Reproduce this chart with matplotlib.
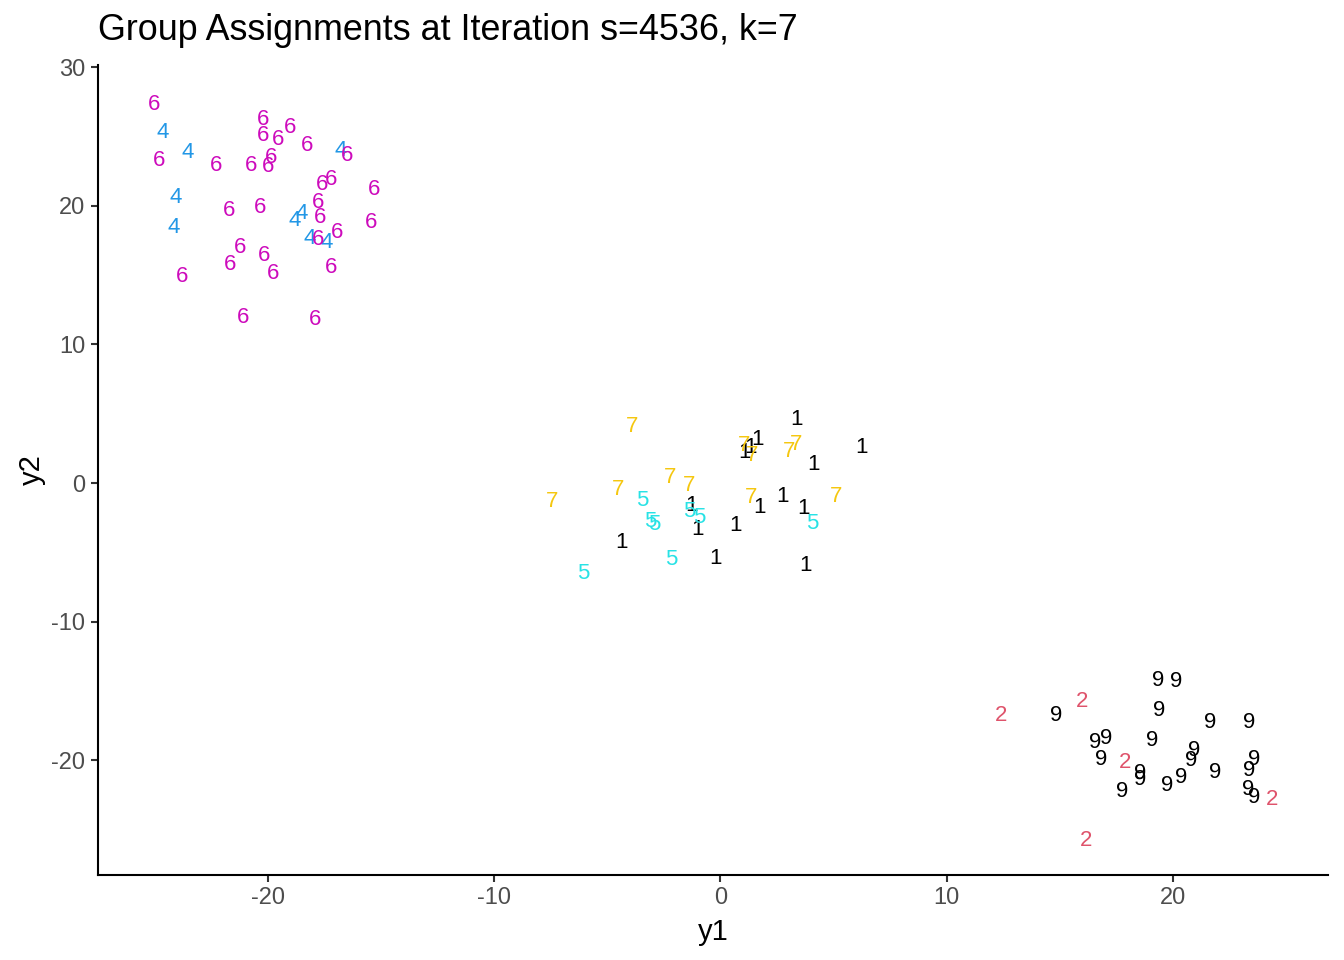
import numpy as np
import matplotlib
matplotlib.use("Agg")
import matplotlib.pyplot as plt

plt.rcParams['font.family'] = ['Liberation Sans', 'DejaVu Sans']
plt.rcParams['axes.unicode_minus'] = False

# group label per point, with coordinates
group_6_x = [-25.06, -20.24, -20.24, -19.05, -19.58, -18.30, -16.53, -24.84, -22.32, -20.77,
             -20.02, -19.89, -15.34, -17.24, -17.64, -17.81, -17.72, -21.75, -20.38, -15.47,
             -16.97, -17.81, -21.26, -20.20, -21.70, -17.24, -19.80, -23.82, -21.13, -17.94]
group_6_y = [27.51, 26.43, 25.27, 25.85, 24.98, 24.55, 23.83, 23.47, 23.10, 23.10,
             23.03, 23.68, 21.37, 22.09, 21.73, 20.43, 19.35, 19.86, 20.07, 18.99,
             18.27, 17.76, 17.18, 16.61, 15.96, 15.74, 15.31, 15.09, 12.13, 11.99]

group_4_x = [-24.66, -23.56, -24.09, -24.18, -16.80, -18.52, -18.83, -18.17, -17.41]
group_4_y = [25.49, 24.04, 20.79, 18.63, 24.19, 19.64, 19.13, 17.83, 17.55]

group_7_x = [-3.93, -7.47, -4.55, -2.25, -1.41, 1.06, 1.41, 3.05, 3.36, 1.37, 5.13]
group_7_y = [4.26, -1.16, -0.29, 0.58, 0.00, 2.89, 2.17, 2.45, 2.96, -0.87, -0.79]

group_5_x = [-3.45, -3.09, -2.92, -1.37, -0.93, -2.17, -6.06, 4.07]
group_5_y = [-1.08, -2.60, -2.82, -1.88, -2.31, -5.34, -6.35, -2.74]

group_1_x = [3.36, 1.64, 1.33, 1.06, 6.23, 4.11, 2.74, 1.72, 3.67, -1.28,
             -1.02, 0.66, -4.38, -0.22, 3.76]
group_1_y = [4.77, 3.32, 2.74, 2.38, 2.74, 1.52, -0.79, -1.59, -1.66, -1.44,
             -3.18, -2.89, -4.12, -5.27, -5.78]

group_2_x = [12.42, 16.00, 17.90, 24.40, 16.18]
group_2_y = [-16.61, -15.60, -20.00, -22.67, -25.63]

group_9_x = [19.36, 20.15, 19.40, 14.85, 21.66, 23.38, 17.06, 16.57, 19.09, 16.84,
             20.95, 20.82, 23.60, 21.88, 23.38, 18.56, 18.56, 20.38, 19.76, 17.77,
             23.34, 23.60]
group_9_y = [-14.08, -14.15, -16.25, -16.61, -17.11, -17.11, -18.27, -18.56, -18.41, -19.78,
             -19.13, -19.86, -19.78, -20.72, -20.58, -20.79, -21.23, -21.08, -21.66, -22.09,
             -21.95, -22.53]

groups = [
    ("1", group_1_x, group_1_y, "black"),
    ("2", group_2_x, group_2_y, "#DF536B"),
    ("4", group_4_x, group_4_y, "#2297E6"),
    ("5", group_5_x, group_5_y, "#28E2E5"),
    ("6", group_6_x, group_6_y, "#CD0BBC"),
    ("7", group_7_x, group_7_y, "#F5C710"),
    ("9", group_9_x, group_9_y, "black"),
]

fig = plt.figure(figsize=(13.44, 9.6), dpi=100)
ax = fig.add_axes([98 / 1344, 1 - 875 / 960, 1230 / 1344, 810 / 960])

all_x = np.concatenate([g[1] for g in groups])
all_y = np.concatenate([g[2] for g in groups])
for label, xs, ys, col in groups:
    for x, y in zip(xs, ys):
        ax.text(x, y, label, color=col, fontsize=16, ha="center", va="center_baseline")

# ggplot-style 5% expansion
dx = (all_x.max() - all_x.min()) * 0.05
dy = (all_y.max() - all_y.min()) * 0.05
ax.set_xlim(all_x.min() - dx, all_x.max() + dx)
ax.set_ylim(all_y.min() - dy, all_y.max() + dy)

ax.set_xticks([-20, -10, 0, 10, 20])
ax.set_yticks([-20, -10, 0, 10, 20, 30])
ax.spines["top"].set_visible(False)
ax.spines["right"].set_visible(False)
for s in ("left", "bottom"):
    ax.spines[s].set_linewidth(1.5)
    ax.spines[s].set_color("black")
ax.tick_params(axis="both", length=5, width=1.5, color="#333333",
               labelcolor="#4D4D4D", labelsize=17, pad=4)

ax.set_xlabel("y1", fontsize=21, labelpad=6)
ax.set_ylabel("y2", fontsize=21, labelpad=4)

fig.text(98 / 1344, 1 - 40 / 960, "Group Assignments at Iteration s=4536, k=7",
         fontsize=25.8, ha="left", va="baseline")

fig.savefig("out.png", dpi=100)
